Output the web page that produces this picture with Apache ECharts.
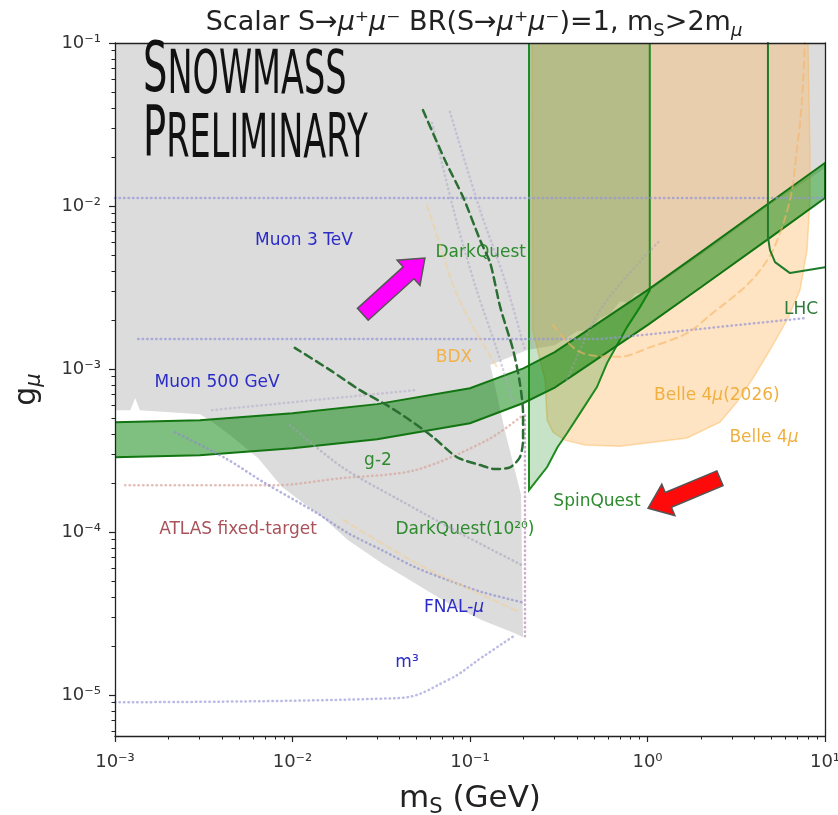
<!DOCTYPE html>
<html>
<head>
<meta charset="utf-8">
<script src="https://cdn.jsdelivr.net/npm/echarts@6/dist/echarts.min.js"></script>
<style>
  html, body { margin: 0; background: #fff; }
  #chart { width: 838px; height: 815px; }
</style>
</head>
<body>
<div id="chart"></div>
<script>
// all points are [m_S in GeV, g_mu]
var grayExcluded = [
  [0.001, 0.1], [10, 0.1], [10, 1.71e-2], [4.97, 1.03e-2], [2.0, 5.0e-3], [1.0, 2.97e-3],
  [0.85, 2.9e-3], [0.78, 2.55e-3], [0.70, 2.6e-3], [0.62, 2.2e-3], [0.54, 2.05e-3], [0.47, 1.75e-3],
  [0.40, 1.7e-3], [0.30, 1.40e-3], [0.21, 1.31e-3], [0.13, 1.06e-3], [0.157, 4.22e-4], [0.194, 1.69e-4],
  [0.199, 2.27e-5], [0.179, 2.40e-5], [0.117, 2.88e-5], [0.0752, 3.67e-5], [0.049, 4.86e-5],
  [0.0319, 6.45e-5], [0.0206, 8.93e-5], [0.01466, 1.24e-4], [0.00873, 1.89e-4], [0.00639, 2.85e-4],
  [0.00444, 3.94e-4], [0.00343, 4.86e-4], [0.00301, 5.29e-4], [0.00138, 5.6e-4], [0.0013, 6.64e-4],
  [0.00122, 5.6e-4], [0.001, 5.6e-4]
];
var bandMass = [0.001, 0.003, 0.01, 0.03, 0.1, 0.2, 0.3, 0.5, 1, 2, 5, 10];
var bandTop = [4.73e-4, 4.86e-4, 5.37e-4, 6.10e-4, 7.64e-4, 1.01e-3, 1.27e-3, 1.84e-3, 3.05e-3, 5.22e-3, 1.07e-2, 1.84e-2];
var bandBottom = [2.88e-4, 2.96e-4, 3.27e-4, 3.72e-4, 4.66e-4, 6.2e-4, 7.7e-4, 1.12e-3, 1.86e-3, 3.18e-3, 6.5e-3, 1.12e-2];
var spinQuest = [
  [0.215, 0.1], [0.215, 1.81e-4], [0.272, 2.51e-4], [0.311, 3.32e-4], [0.352, 4.04e-4], [0.417, 5.37e-4],
  [0.519, 7.76e-4], [0.592, 1.09e-3], [0.767, 1.81e-3], [0.907, 2.40e-3], [1.03, 3.05e-3], [1.03, 0.1]
];
var belle2026 = [
  [0.224, 0.1], [0.226, 1.73e-3], [0.265, 8.57e-4], [0.272, 4.86e-4], [0.294, 4.10e-4], [0.343, 3.67e-4],
  [0.444, 3.42e-4], [0.70, 3.37e-4], [1.67, 3.78e-4], [2.56, 4.73e-4], [3.19, 6.28e-4], [3.93, 8.81e-4],
  [4.90, 1.31e-3], [6.11, 2.0e-3], [7.23, 3.05e-3], [7.92, 5.37e-3], [8.22, 1.09e-2], [8.22, 2.21e-2], [8.02, 0.1]
];
var belle4mu = [
  [0.294, 1.86e-3], [0.417, 1.27e-3], [0.70, 1.19e-3], [1.03, 1.36e-3], [1.67, 1.66e-3], [2.25, 2.14e-3],
  [3.78, 3.42e-3], [5.09, 5.37e-3], [6.35, 1.09e-2], [6.95, 2.21e-2], [7.42, 4.47e-2], [7.71, 0.1]
];
var lhc = [[4.77, 0.1], [4.77, 6.46e-3], [4.90, 5.37e-3], [5.23, 4.53e-3], [6.35, 3.88e-3], [10, 4.22e-3]];
var darkQuest = [
  [0.0543, 3.88e-2], [0.0723, 1.91e-2], [0.0914, 1.135e-2], [0.114, 6.18e-3], [0.130, 4.47e-3],
  [0.148, 2.40e-3], [0.175, 1.31e-3], [0.191, 8.21e-4], [0.199, 5.37e-4], [0.199, 3.67e-4],
  [0.191, 2.88e-4], [0.168, 2.50e-4], [0.138, 2.44e-4], [0.114, 2.58e-4], [0.0845, 2.88e-4],
  [0.0619, 3.83e-4], [0.0459, 4.86e-4], [0.034, 6.01e-4], [0.024, 7.43e-4], [0.0163, 9.86e-4], [0.0103, 1.35e-3]
];
var muon3TeV = [[0.001, 1.12e-2], [10, 1.12e-2]];
var muon500GeV = [[1.35e-3, 1.53e-3], [0.54, 1.53e-3], [1.0, 1.63e-3], [3.0, 1.85e-3], [7.9, 2.06e-3]];
var muon500Low = [[3.52e-3, 5.6e-4], [0.049, 7.43e-4]];
var atlasFT = [[1.14e-3, 1.94e-4], [7.97e-3, 1.94e-4], [1.85e-2, 2.14e-4], [0.049, 2.40e-4], [0.125, 3.67e-4], [0.199, 5.22e-4]];
var threshold = [[0.204, 5.2e-4], [0.204, 2.3e-5]];
var fnalMu = [
  [2.18e-3, 4.10e-4], [4.17e-3, 2.85e-4], [7.0e-3, 2.0e-4], [1.34e-2, 1.33e-4], [2.06e-2, 9.86e-5],
  [3.19e-2, 7.76e-5], [0.049, 6.10e-5], [0.0752, 5.08e-5], [0.117, 4.29e-5], [0.196, 3.72e-5]
];
var darkQuest20 = [[9.68e-3, 4.53e-4], [1.90e-2, 2.51e-4], [4.03e-2, 1.57e-4], [8.79e-2, 9.86e-5], [0.196, 6.28e-5]];
var bdxLow = [[1.93e-2, 1.19e-4], [5.23e-2, 6.28e-5], [0.191, 3.23e-5]];
var bdxHigh = [[5.72e-2, 1.01e-2], [6.78e-2, 5.77e-3], [8.23e-2, 3.05e-3], [0.109, 1.66e-3], [0.142, 1.03e-3]];
var dqEdgeA = [[6.11e-2, 3.23e-2], [8.45e-2, 7.87e-3], [0.109, 3.05e-3], [0.142, 1.31e-3], [0.173, 6.46e-4]];
var dqEdgeB = [[7.71e-2, 3.78e-2], [0.114, 9.44e-3], [0.157, 3.52e-3], [0.204, 1.31e-3]];
var spinEdge = [[0.352, 8.57e-4], [0.540, 2.30e-3], [0.944, 4.80e-3], [1.18, 6.18e-3]];
var m3 = [[0.001, 9.06e-6], [0.0393, 9.6e-6], [0.0752, 1.24e-5], [0.117, 1.71e-5], [0.179, 2.33e-5]];

var labelTexts = ['Muon 3 TeV', 'DarkQuest', 'BDX', 'Muon 500 GeV', 'LHC', 'Belle 4{i|μ}(2026)', 'Belle 4{i|μ}',
  'g-2', 'SpinQuest', 'ATLAS fixed-target', 'DarkQuest(10²⁰)', 'FNAL-{i|μ}', 'm³'];
var labelPos = [[1.16e-2, 6.18e-3], [0.115, 5.15e-3], [8.13e-2, 1.17e-3], [3.76e-3, 8.32e-4], [7.33, 2.33e-3],
  [2.46, 6.92e-4], [4.53, 3.83e-4], [3.03e-2, 2.73e-4], [0.519, 1.55e-4], [4.93e-3, 1.04e-4],
  [9.37e-2, 1.04e-4], [8.13e-2, 3.47e-5], [4.42e-2, 1.59e-5]];
var labelColors = ['#2b2bc8', '#2e8b2e', '#f2b24a', '#2b2bc8', '#2d7a3a', '#f0b040', '#f0b040',
  '#2e8b2e', '#2e8b2e', '#a8535a', '#2e8b2e', '#2b2bc8', '#2b2bc8'];

var arrowTails = [[2.49e-2, 2.17e-3], [2.56, 2.14e-4]];
var arrowTips = [[5.57e-2, 4.80e-3], [1.007, 1.40e-4]];
var arrowColors = ['#ff00ff', '#ff0a0a'];

var xTickExp = [-3, -2, -1, 0, 1];
var yTickExp = [-5, -4, -3, -2, -1];

function lg(p) { return [Math.log10(p[0]), Math.log10(p[1])]; }

var xMinor = [], yMinor = [];
for (var d = -3; d < 1; d++) for (var k = 2; k < 10; k++) xMinor.push(d + Math.log10(k));
for (var d2 = -6; d2 < -1; d2++) for (var k2 = 2; k2 < 10; k2++) {
  var v = d2 + Math.log10(k2);
  if (v > -5.25 && v < -1) yMinor.push(v);
}

var supMap = { '-': '⁻', '0': '⁰', '1': '¹', '2': '²', '3': '³', '4': '⁴', '5': '⁵' };
function pow10(v) {
  var s = String(Math.round(v)).split('').map(function (c) { return supMap[c]; }).join('');
  return '10' + s;
}

function polySeries(pts, fill, stroke, lw) {
  return {
    type: 'custom', silent: true, clip: true,
    data: [lg(pts[0])],
    renderItem: function (params, api) {
      var points = pts.map(function (p) { return api.coord(lg(p)); });
      return { type: 'polygon', shape: { points: points }, style: { fill: fill, stroke: stroke, lineWidth: lw } };
    }
  };
}

function lineSeries(pts, color, width, dash, smooth) {
  return {
    type: 'line', silent: true, symbol: 'none', smooth: smooth || false,
    data: pts.map(lg),
    lineStyle: { color: color, width: width, type: dash, cap: 'round' }
  };
}

var bandPoly = bandMass.map(function (m, i) { return [m, bandTop[i]]; })
  .concat(bandMass.map(function (m, i) { return [m, bandBottom[i]]; }).reverse());

var dots = [0.5, 4];
var series = [
  polySeries(grayExcluded, '#dcdcdc', null, 0),
  polySeries(belle2026, 'rgba(255,185,100,0.38)', 'rgba(250,180,80,0.45)', 1.5),
  lineSeries(muon3TeV, 'rgba(150,150,215,0.7)', 2.5, dots),
  lineSeries(muon500GeV, 'rgba(150,150,215,0.7)', 2.5, dots),
  lineSeries(muon500Low, 'rgba(170,160,200,0.45)', 2.5, dots),
  lineSeries(atlasFT, 'rgba(215,165,155,0.7)', 2.5, dots, 0.3),
  lineSeries(threshold, 'rgba(170,120,170,0.6)', 2.5, dots),
  lineSeries(fnalMu, 'rgba(140,140,205,0.65)', 2.5, dots, 0.3),
  lineSeries(darkQuest20, 'rgba(160,160,185,0.55)', 2.5, dots, 0.3),
  lineSeries(bdxLow, 'rgba(245,205,140,0.5)', 2, [6, 4], 0.3),
  lineSeries(bdxHigh, 'rgba(245,205,140,0.5)', 2, [6, 4], 0.3),
  lineSeries(dqEdgeA, 'rgba(165,170,195,0.5)', 2.5, dots, 0.3),
  lineSeries(dqEdgeB, 'rgba(170,155,205,0.45)', 2.5, dots, 0.3),
  lineSeries(spinEdge, 'rgba(160,160,175,0.45)', 2.5, dots, 0.3),
  lineSeries(m3, 'rgba(150,150,215,0.65)', 2.5, dots, 0.4),
  lineSeries(belle4mu, 'rgba(245,180,100,0.6)', 2, [7, 5], 0.3),
  polySeries(spinQuest, 'rgba(0,128,0,0.22)', '#1f8a1f', 2),
  polySeries(bandPoly, 'rgba(0,128,0,0.5)', '#127512', 2),
  lineSeries(lhc, '#1f7a2a', 2, 'solid'),
  lineSeries(darkQuest, '#2a6e34', 2.5, [8, 5], 0.25),
  {
    type: 'custom', silent: true,
    data: labelPos.map(lg),
    renderItem: function (params, api) {
      var c = api.coord([api.value(0), api.value(1)]);
      return {
        type: 'text', x: c[0], y: c[1],
        style: {
          text: labelTexts[params.dataIndex], fill: labelColors[params.dataIndex],
          fontFamily: 'DejaVu Sans', fontSize: 17, align: 'center', verticalAlign: 'middle',
          rich: { i: { fontStyle: 'italic', fontFamily: 'DejaVu Sans', fontSize: 17 } }
        }
      };
    }
  },
  {
    type: 'custom', silent: true,
    data: arrowTails.map(lg),
    renderItem: function (params, api) {
      var i = params.dataIndex;
      var t = api.coord(lg(arrowTails[i]));
      var p = api.coord(lg(arrowTips[i]));
      var dx = p[0] - t[0], dy = p[1] - t[1], len = Math.sqrt(dx * dx + dy * dy);
      var ux = dx / len, uy = dy / len, nx = -uy, ny = ux;
      var bw = 8, hw = 17, hl = 22;
      var bx = p[0] - ux * hl, by = p[1] - uy * hl;
      var pts = [
        [t[0] + nx * bw, t[1] + ny * bw], [bx + nx * bw, by + ny * bw], [bx + nx * hw, by + ny * hw],
        [p[0], p[1]], [bx - nx * hw, by - ny * hw], [bx - nx * bw, by - ny * bw], [t[0] - nx * bw, t[1] - ny * bw]
      ];
      return { type: 'polygon', shape: { points: pts }, style: { fill: arrowColors[i], stroke: '#555', lineWidth: 1.5 } };
    }
  }
];

var axisColor = '#222';
var tickFont = { fontFamily: 'DejaVu Sans', fontSize: 18, color: '#333' };

var option = {
  animation: false,
  backgroundColor: '#fff',
  title: {
    text: 'Scalar S→{i|μ}⁺{i|μ}⁻ BR(S→{i|μ}⁺{i|μ}⁻)=1, m{s|S}>2m{si|μ}',
    left: 469, top: 1, textAlign: 'center',
    textStyle: {
      fontFamily: 'DejaVu Sans', fontSize: 27, fontWeight: 'normal', color: '#222', lineHeight: 34,
      rich: {
        i: { fontFamily: 'DejaVu Sans', fontSize: 27, fontStyle: 'italic', color: '#222', lineHeight: 34 },
        s: { fontFamily: 'DejaVu Sans', fontSize: 18, color: '#222', verticalAlign: 'bottom', lineHeight: 21 },
        si: { fontFamily: 'DejaVu Sans', fontSize: 18, fontStyle: 'italic', color: '#222', verticalAlign: 'bottom', lineHeight: 21 }
      }
    }
  },
  grid: { left: 115, right: 13, top: 43, bottom: 79, containLabel: false, outerBoundsMode: 'none' },
  xAxis: [
    {
      type: 'value', min: -3, max: 1, position: 'bottom', z: 5,
      name: 'm{s|S} (GeV)', nameLocation: 'middle', nameGap: 44,
      nameTextStyle: {
        fontFamily: 'DejaVu Sans', fontSize: 31, color: '#222', lineHeight: 38,
        rich: { s: { fontFamily: 'DejaVu Sans', fontSize: 21, color: '#222', verticalAlign: 'bottom', lineHeight: 23 } }
      },
      axisLine: { show: true, onZero: false, lineStyle: { color: axisColor, width: 1.3 } },
      axisTick: { show: true, length: 6, customValues: xTickExp, lineStyle: { color: axisColor, width: 1.2 } },
      axisLabel: Object.assign({ customValues: xTickExp, formatter: pow10, margin: 17 }, tickFont),
      splitLine: { show: false }
    },
    {
      type: 'value', min: -3, max: 1, position: 'bottom', z: 5,
      axisLine: { show: false, onZero: false },
      axisTick: { show: true, length: 3.5, customValues: xMinor, lineStyle: { color: axisColor, width: 1 } },
      axisLabel: { show: false }, splitLine: { show: false }
    },
    {
      type: 'value', min: -3, max: 1, position: 'top', z: 5,
      axisLine: { show: true, onZero: false, lineStyle: { color: axisColor, width: 1.3 } },
      axisTick: { show: false }, axisLabel: { show: false }, splitLine: { show: false }
    }
  ],
  yAxis: [
    {
      type: 'value', min: -5.25, max: -1, position: 'left', z: 5,
      name: 'g{s|μ}', nameLocation: 'middle', nameGap: 70,
      nameTextStyle: {
        fontFamily: 'DejaVu Sans', fontSize: 30, color: '#222', lineHeight: 36,
        rich: { s: { fontFamily: 'DejaVu Sans', fontSize: 21, fontStyle: 'italic', color: '#222', verticalAlign: 'bottom', lineHeight: 22 } }
      },
      axisLine: { show: true, onZero: false, lineStyle: { color: axisColor, width: 1.3 } },
      axisTick: { show: true, length: 6, customValues: yTickExp, lineStyle: { color: axisColor, width: 1.2 } },
      axisLabel: Object.assign({ customValues: yTickExp, formatter: pow10, margin: 14 }, tickFont),
      splitLine: { show: false }
    },
    {
      type: 'value', min: -5.25, max: -1, position: 'left', z: 5,
      axisLine: { show: false, onZero: false },
      axisTick: { show: true, length: 3.5, customValues: yMinor, lineStyle: { color: axisColor, width: 1 } },
      axisLabel: { show: false }, splitLine: { show: false }
    },
    {
      type: 'value', min: -5.25, max: -1, position: 'right', z: 5,
      axisLine: { show: true, onZero: false, lineStyle: { color: axisColor, width: 1.3 } },
      axisTick: { show: false }, axisLabel: { show: false }, splitLine: { show: false }
    }
  ],
  graphic: [{
    type: 'text', x: 143, y: 44, scaleX: 0.55, z: 100,
    style: {
      text: '{a|S}{b|NOWMASS}\n{a|P}{b|RELIMINARY}',
      fill: '#111',
      rich: {
        a: { fontFamily: 'DejaVu Sans', fontSize: 70, lineHeight: 64, verticalAlign: 'bottom', fill: '#111' },
        b: { fontFamily: 'DejaVu Sans', fontSize: 61, lineHeight: 64, verticalAlign: 'bottom', fill: '#111' }
      }
    }
  }],
  series: series
};

var chart = echarts.init(document.getElementById('chart'), null, { renderer: 'canvas' });
chart.setOption(option);
</script>
</body>
</html>
